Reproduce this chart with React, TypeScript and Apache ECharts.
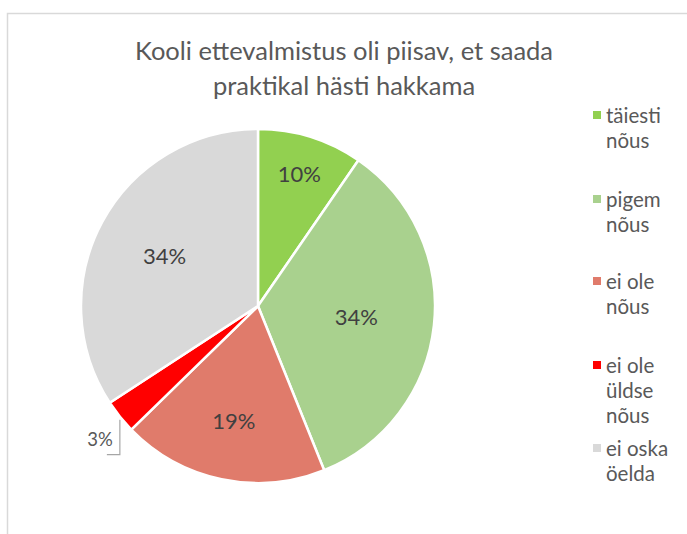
import React, { useEffect, useRef } from "react";
import * as echarts from "echarts";

const titleText = "Kooli ettevalmistus oli piisav, et saada\npraktikal hästi hakkama";
const categories = ["täiesti\nnõus", "pigem\nnõus", "ei ole\nnõus", "ei ole\nüldse\nnõus", "ei oska\nöelda"];
const values = [9.6, 34.3, 18.8, 3.1, 34.2];
const colors = ["#92D050", "#A9D18E", "#E07B6B", "#FF0000", "#D9D9D9"];
// legend first-line centre positions (layout)
const legendTops = [115, 199, 281, 365, 448];
// radial position factor of inside labels relative to half radius
const labelRadial = [1.52, 1.08, 1.28, 1, 1.16];

const FONT = "Lato";
const CX = 258;
const CY = 306;
const R = 177;
const LH = 25;

export default function App() {
  const ref = useRef<HTMLDivElement>(null);
  useEffect(() => {
    document.body.style.margin = "0";
    if (!ref.current) return;
    const chart = echarts.init(ref.current, null, { renderer: "svg" });
    const legends = categories.map((name, i) => {
      const lines = name.split("\n").length;
      const h = lines * LH;
      const y0 = LH / 2 - 4;
      return {
        data: [name],
        left: 593,
        top: legendTops[i] - LH / 2,
        orient: "vertical",
        padding: 0,
        itemWidth: 8,
        itemHeight: h,
        icon: `path://M0,0L0,0M0,${h}L0,${h}M0,${y0}h8v8h-8z`,
        itemStyle: { borderWidth: 0 },
        selectedMode: false,
        textStyle: { fontFamily: FONT, fontSize: 20.5, color: "#595959", lineHeight: LH },
      };
    });
    chart.setOption({
      animation: false,
      backgroundColor: "#ffffff",
      title: {
        text: titleText,
        left: 344,
        top: 32,
        padding: 0,
        textAlign: "center",
        textStyle: { fontFamily: FONT, fontSize: 25.5, fontWeight: "normal", color: "#595959", lineHeight: 35 },
      },
      legend: legends,
      graphic: [
        {
          type: "rect",
          silent: true,
          shape: { x: 7.5, y: 13.5, width: 800, height: 700 },
          style: { fill: "none", stroke: "#D9D9D9", lineWidth: 1.5 },
        },
      ],
      series: [
        {
          type: "pie",
          center: [CX, CY],
          radius: R,
          startAngle: 90,
          clockwise: true,
          label: {
            show: true,
            position: "inside",
            formatter: (p: any) => Math.round(p.percent) + "%",
            fontFamily: FONT,
            fontSize: 22,
            color: "#404040",
          },
          labelLine: { show: false },
          itemStyle: { borderColor: "#ffffff", borderWidth: 2.5 },
          labelLayout: (params: any) => {
            const i = params.dataIndex;
            if (i === 3 && params.labelLinePoints) {
              const p = params.labelLinePoints[0];
              return {
                x: p[0] - 7,
                y: p[1] + 22,
                align: "right",
                verticalAlign: "middle",
                labelLinePoints: [
                  [p[0], p[1] + 3],
                  [p[0], p[1] + 38],
                  [p[0] - 13, p[1] + 38],
                ],
              };
            }
            const k = labelRadial[i];
            const r = params.labelRect;
            const cx0 = r.x + r.width / 2;
            const cy0 = r.y + r.height / 2;
            return {
              x: CX + k * (cx0 - CX),
              y: CY + k * (cy0 - CY),
              align: "center",
              verticalAlign: "middle",
            };
          },
          data: categories.map((name, i) => {
            const item: any = { name, value: values[i], itemStyle: { color: colors[i] } };
            if (i === 3) {
              item.label = { position: "outside", fontSize: 18.5, color: "#595959" };
              item.labelLine = { show: true, lineStyle: { color: "#A6A6A6", width: 1.2 } };
            }
            return item;
          }),
        },
      ],
    });
    return () => chart.dispose();
  }, []);
  return <div ref={ref} style={{ width: 687, height: 534 }} />;
}
